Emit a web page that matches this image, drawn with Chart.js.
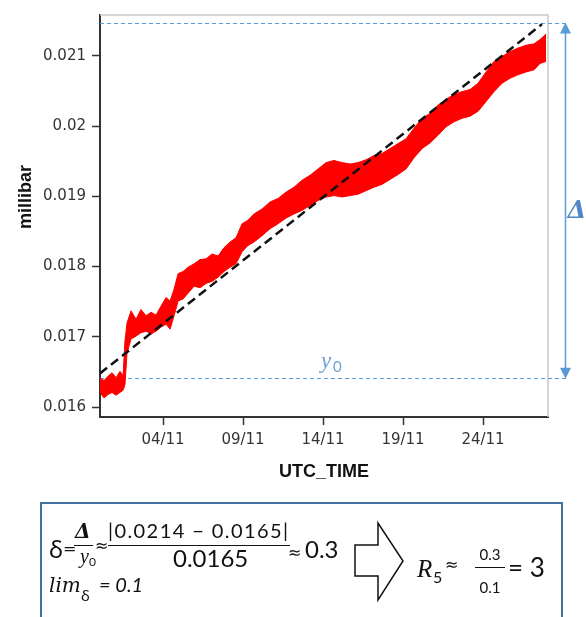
<!DOCTYPE html>
<html><head><meta charset="utf-8">
<script src="https://cdn.jsdelivr.net/npm/chart.js@4"></script>
<style>html,body{margin:0;padding:0;background:#fff;overflow:hidden}#wrap{position:relative;width:586px;height:617px}</style>
</head><body><div id="wrap"><canvas id="c" width="586" height="617"></canvas></div>
<script>
// ---- data (time in days of November, values in millibar) ----
const timeDays = [0.06,0.31,0.56,0.81,1.06,1.31,1.50,1.62,1.75,2.00,
  2.31,2.62,2.94,3.25,3.56,3.88,4.19,4.44,4.69,4.94,
  5.25,5.56,5.94,6.31,6.69,7.06,7.44,7.81,8.19,8.56,
  8.94,9.31,9.69,10.19,10.69,11.19,11.69,12.19,12.69,13.19,
  13.69,14.19,14.69,15.19,15.69,16.19,16.69,17.19,17.69,18.19,
  18.69,19.19,19.69,20.19,20.69,21.19,21.69,22.19,22.69,23.19,
  23.69,24.19,24.69,25.19,25.69,26.19,26.69,27.19,27.56,27.94];
const upperValues = [0.01641,0.01638,0.01644,0.01649,0.01642,0.01651,0.01645,0.01694,0.01720,0.01737,
  0.01725,0.01739,0.01730,0.01735,0.01731,0.01744,0.01756,0.01751,0.01768,0.01790,
  0.01793,0.01799,0.01804,0.01810,0.01811,0.01818,0.01815,0.01827,0.01835,0.01841,
  0.01861,0.01866,0.01875,0.01882,0.01892,0.01897,0.01906,0.01913,0.01923,0.01930,
  0.01939,0.01948,0.01951,0.01948,0.01946,0.01948,0.01952,0.01958,0.01961,0.01968,
  0.01975,0.01982,0.01997,0.02011,0.02018,0.02030,0.02038,0.02045,0.02049,0.02052,
  0.02061,0.02077,0.02092,0.02099,0.02106,0.02111,0.02115,0.02117,0.02123,0.02131];
const lowerValues = [0.01621,0.01613,0.01618,0.01621,0.01617,0.01621,0.01624,0.01632,0.01677,0.01697,
  0.01701,0.01706,0.01708,0.01704,0.01708,0.01714,0.01718,0.01711,0.01730,0.01751,
  0.01754,0.01762,0.01772,0.01770,0.01776,0.01779,0.01785,0.01793,0.01799,0.01804,
  0.01821,0.01830,0.01835,0.01844,0.01854,0.01861,0.01869,0.01875,0.01880,0.01887,
  0.01894,0.01899,0.01901,0.01899,0.01901,0.01903,0.01908,0.01913,0.01917,0.01924,
  0.01931,0.01939,0.01955,0.01968,0.01976,0.01987,0.01999,0.02006,0.02011,0.02014,
  0.02021,0.02035,0.02049,0.02061,0.02068,0.02073,0.02077,0.02080,0.02089,0.02092];
const trendDays = [0.06, 27.69];
const trendValues = [0.01648, 0.02145];
const deltaTopValue = 0.02146;
const y0Value = 0.01642;
const xTickValues = [4, 9, 14, 19, 24];
const xTickLabels = ['04/11', '09/11', '14/11', '19/11', '24/11'];
const yTickValues = [0.016, 0.017, 0.018, 0.019, 0.020, 0.021];
const yTickLabels = ['0.016', '0.017', '0.018', '0.019', '0.02', '0.021'];
const xRange = [0.06, 28.06];
const yRange = [0.01586, 0.02158];

const pts = (xs, ys) => xs.map((x, i) => ({x: x, y: ys[i]}));

function txt(ctx, s, x, y, font, align) {
  ctx.font = font; ctx.textAlign = align || 'left'; ctx.textBaseline = 'alphabetic';
  ctx.fillText(s, x, y);
}
function hline(ctx, x1, x2, y) {
  ctx.beginPath(); ctx.moveTo(x1, y); ctx.lineTo(x2, y); ctx.stroke();
}

const decor = {
  id: 'decor',
  beforeDatasetsDraw(chart) {
    const {ctx, chartArea: a, scales: {y}} = chart;
    ctx.save();
    ctx.strokeStyle = '#c8c8c8'; ctx.lineWidth = 1.5;
    ctx.beginPath(); ctx.moveTo(a.left, a.top); ctx.lineTo(a.right, a.top); ctx.lineTo(a.right, a.bottom); ctx.stroke();
    const arrowX = a.right + 17;
    const yt = Math.round(y.getPixelForValue(deltaTopValue)) + 0.5;
    const yb = Math.round(y.getPixelForValue(y0Value)) + 0.5;
    ctx.strokeStyle = '#5b9bd5'; ctx.lineWidth = 1; ctx.setLineDash([4, 3]);
    hline(ctx, a.left, arrowX + 3, yt);
    hline(ctx, a.left, arrowX + 3, yb);
    ctx.restore();
  },
  afterDraw(chart) {
    const {ctx, chartArea: a, scales: {y}} = chart;
    ctx.save();
    const arrowX = a.right + 17.5;
    const yt = y.getPixelForValue(deltaTopValue);
    const yb = y.getPixelForValue(y0Value);
    ctx.strokeStyle = '#5b9bd5'; ctx.fillStyle = '#5b9bd5'; ctx.lineWidth = 1.5;
    ctx.beginPath(); ctx.moveTo(arrowX, yt + 8); ctx.lineTo(arrowX, yb - 8); ctx.stroke();
    ctx.beginPath(); ctx.moveTo(arrowX, yt - 1); ctx.lineTo(arrowX - 5.5, yt + 10); ctx.lineTo(arrowX + 5.5, yt + 10); ctx.closePath(); ctx.fill();
    ctx.beginPath(); ctx.moveTo(arrowX, yb + 1); ctx.lineTo(arrowX - 5.5, yb - 10); ctx.lineTo(arrowX + 5.5, yb - 10); ctx.closePath(); ctx.fill();
    // labels on the chart
    ctx.fillStyle = '#4f86c6';
    txt(ctx, 'Δ', arrowX + 2, 218, 'italic bold 24px "DejaVu Serif"');
    ctx.fillStyle = '#6fa0d6';
    txt(ctx, 'y', 321, yb - 10, 'italic 23px "Liberation Serif"');
    txt(ctx, '0', 333, yb - 6, '15px Lato, "Noto Sans"');
    // y axis title
    ctx.fillStyle = '#111';
    ctx.save(); ctx.translate(26, 197); ctx.rotate(-Math.PI / 2);
    ctx.font = 'bold 18px "Liberation Sans"'; ctx.textAlign = 'center'; ctx.textBaseline = 'middle';
    ctx.fillText('millibar', 0, 0); ctx.restore();
    // formula box
    ctx.fillStyle = '#fff'; ctx.fillRect(41, 503, 521, 130);
    ctx.strokeStyle = '#41719c'; ctx.lineWidth = 2; ctx.strokeRect(41, 503, 521, 130);
    ctx.fillStyle = '#111'; ctx.strokeStyle = '#111'; ctx.lineWidth = 1;
    const L = 'Lato, "Noto Sans"';
    const D = '"DejaVu Sans"';
    txt(ctx, 'δ', 49, 558, '24px "Noto Sans"');
    txt(ctx, '=', 63, 554, '16px ' + D);
    txt(ctx, 'Δ', 75, 538, 'italic bold 20px "DejaVu Serif"');
    hline(ctx, 74, 93, 545.5);
    txt(ctx, 'y', 80, 563, 'italic 20px "Liberation Serif"');
    txt(ctx, '0', 89, 566, '12px ' + L);
    txt(ctx, '≈', 95, 551, '16px ' + D);
    ctx.font = '20px ' + L;
    const num = '|0.0214 − 0.0165|';
    const w = ctx.measureText(num).width;
    ctx.letterSpacing = ((180 - w) / (num.length - 1)).toFixed(2) + 'px';
    txt(ctx, num, 108, 538, '20px ' + L);
    ctx.letterSpacing = '0px';
    hline(ctx, 108, 290, 545.5);
    txt(ctx, '0.0165', 173, 567, '24px ' + L);
    txt(ctx, '≈', 288, 558, '16px ' + D);
    txt(ctx, '0.3', 305, 558, '24px ' + L);
    txt(ctx, 'lim', 49, 592, 'italic 20px "DejaVu Serif"');
    txt(ctx, 'δ', 81, 601, '15px "Noto Sans"');
    txt(ctx, '= 0.1', 99, 592, 'italic 20px ' + L);
    // hollow arrow
    ctx.lineWidth = 1.5;
    ctx.beginPath();
    ctx.moveTo(355, 545); ctx.lineTo(378, 545); ctx.lineTo(378, 523); ctx.lineTo(403, 561);
    ctx.lineTo(378, 600); ctx.lineTo(378, 576); ctx.lineTo(355, 576); ctx.closePath();
    ctx.fillStyle = '#fff'; ctx.fill(); ctx.stroke();
    ctx.fillStyle = '#111'; ctx.lineWidth = 1;
    txt(ctx, 'R', 417, 577, 'italic 25px "Liberation Serif"');
    txt(ctx, '5', 433, 583, '16px ' + L);
    txt(ctx, '≈', 445, 570, '16px ' + D);
    txt(ctx, '0.3', 490, 560, '15px ' + L, 'center');
    hline(ctx, 475, 505, 567.5);
    txt(ctx, '0.1', 490, 593, '15px ' + L, 'center');
    txt(ctx, '= 3', 508, 577, '26px ' + L);
    ctx.restore();
  }
};

new Chart(document.getElementById('c'), {
  type: 'line',
  data: {
    datasets: [
      { label: 'trend', data: pts(trendDays, trendValues), borderColor: '#111', borderWidth: 2.5,
        borderDash: [9, 5], pointRadius: 0, fill: false },
      { label: 'upper', data: pts(timeDays, upperValues), borderColor: '#ff0000', borderWidth: 1,
        pointRadius: 0, fill: false, tension: 0 },
      { label: 'lower', data: pts(timeDays, lowerValues), borderColor: '#ff0000', borderWidth: 1,
        pointRadius: 0, fill: '-1', backgroundColor: '#ff0000', tension: 0 }
    ]
  },
  options: {
    responsive: false, animation: false, devicePixelRatio: 1,
    layout: { padding: { top: 11, right: 38, bottom: 127, left: 0 } },
    plugins: { legend: { display: false }, tooltip: { enabled: false } },
    scales: {
      x: {
        type: 'linear', min: xRange[0], max: xRange[1],
        afterBuildTicks: (s) => { s.ticks = xTickValues.map(v => ({value: v})); },
        afterFit: (s) => { s.height = 73; },
        grid: { drawOnChartArea: false, drawTicks: true, tickLength: 8, color: '#333', tickWidth: 1.5 },
        border: { display: true, color: '#333', width: 2 },
        ticks: { padding: 6, color: '#333', font: { family: 'DejaVu Sans', size: 15 },
          maxRotation: 0, autoSkip: false, callback: (v, i) => xTickLabels[i] },
        title: { display: true, text: 'UTC_TIME', color: '#111',
          font: { family: 'Liberation Sans', size: 18, weight: 'bold' }, padding: { top: 0, bottom: 7 } }
      },
      y: {
        type: 'linear', min: yRange[0], max: yRange[1],
        afterBuildTicks: (s) => { s.ticks = yTickValues.map(v => ({value: v})); },
        afterFit: (s) => { s.width = 100; },
        grid: { drawOnChartArea: false, drawTicks: true, tickLength: 8, color: '#333', tickWidth: 1.5 },
        border: { display: true, color: '#333', width: 2 },
        ticks: { padding: 6, color: '#333', font: { family: 'DejaVu Sans', size: 15 },
          autoSkip: false, callback: (v, i) => yTickLabels[i] }
      }
    }
  },
  plugins: [decor]
});
</script></body></html>
